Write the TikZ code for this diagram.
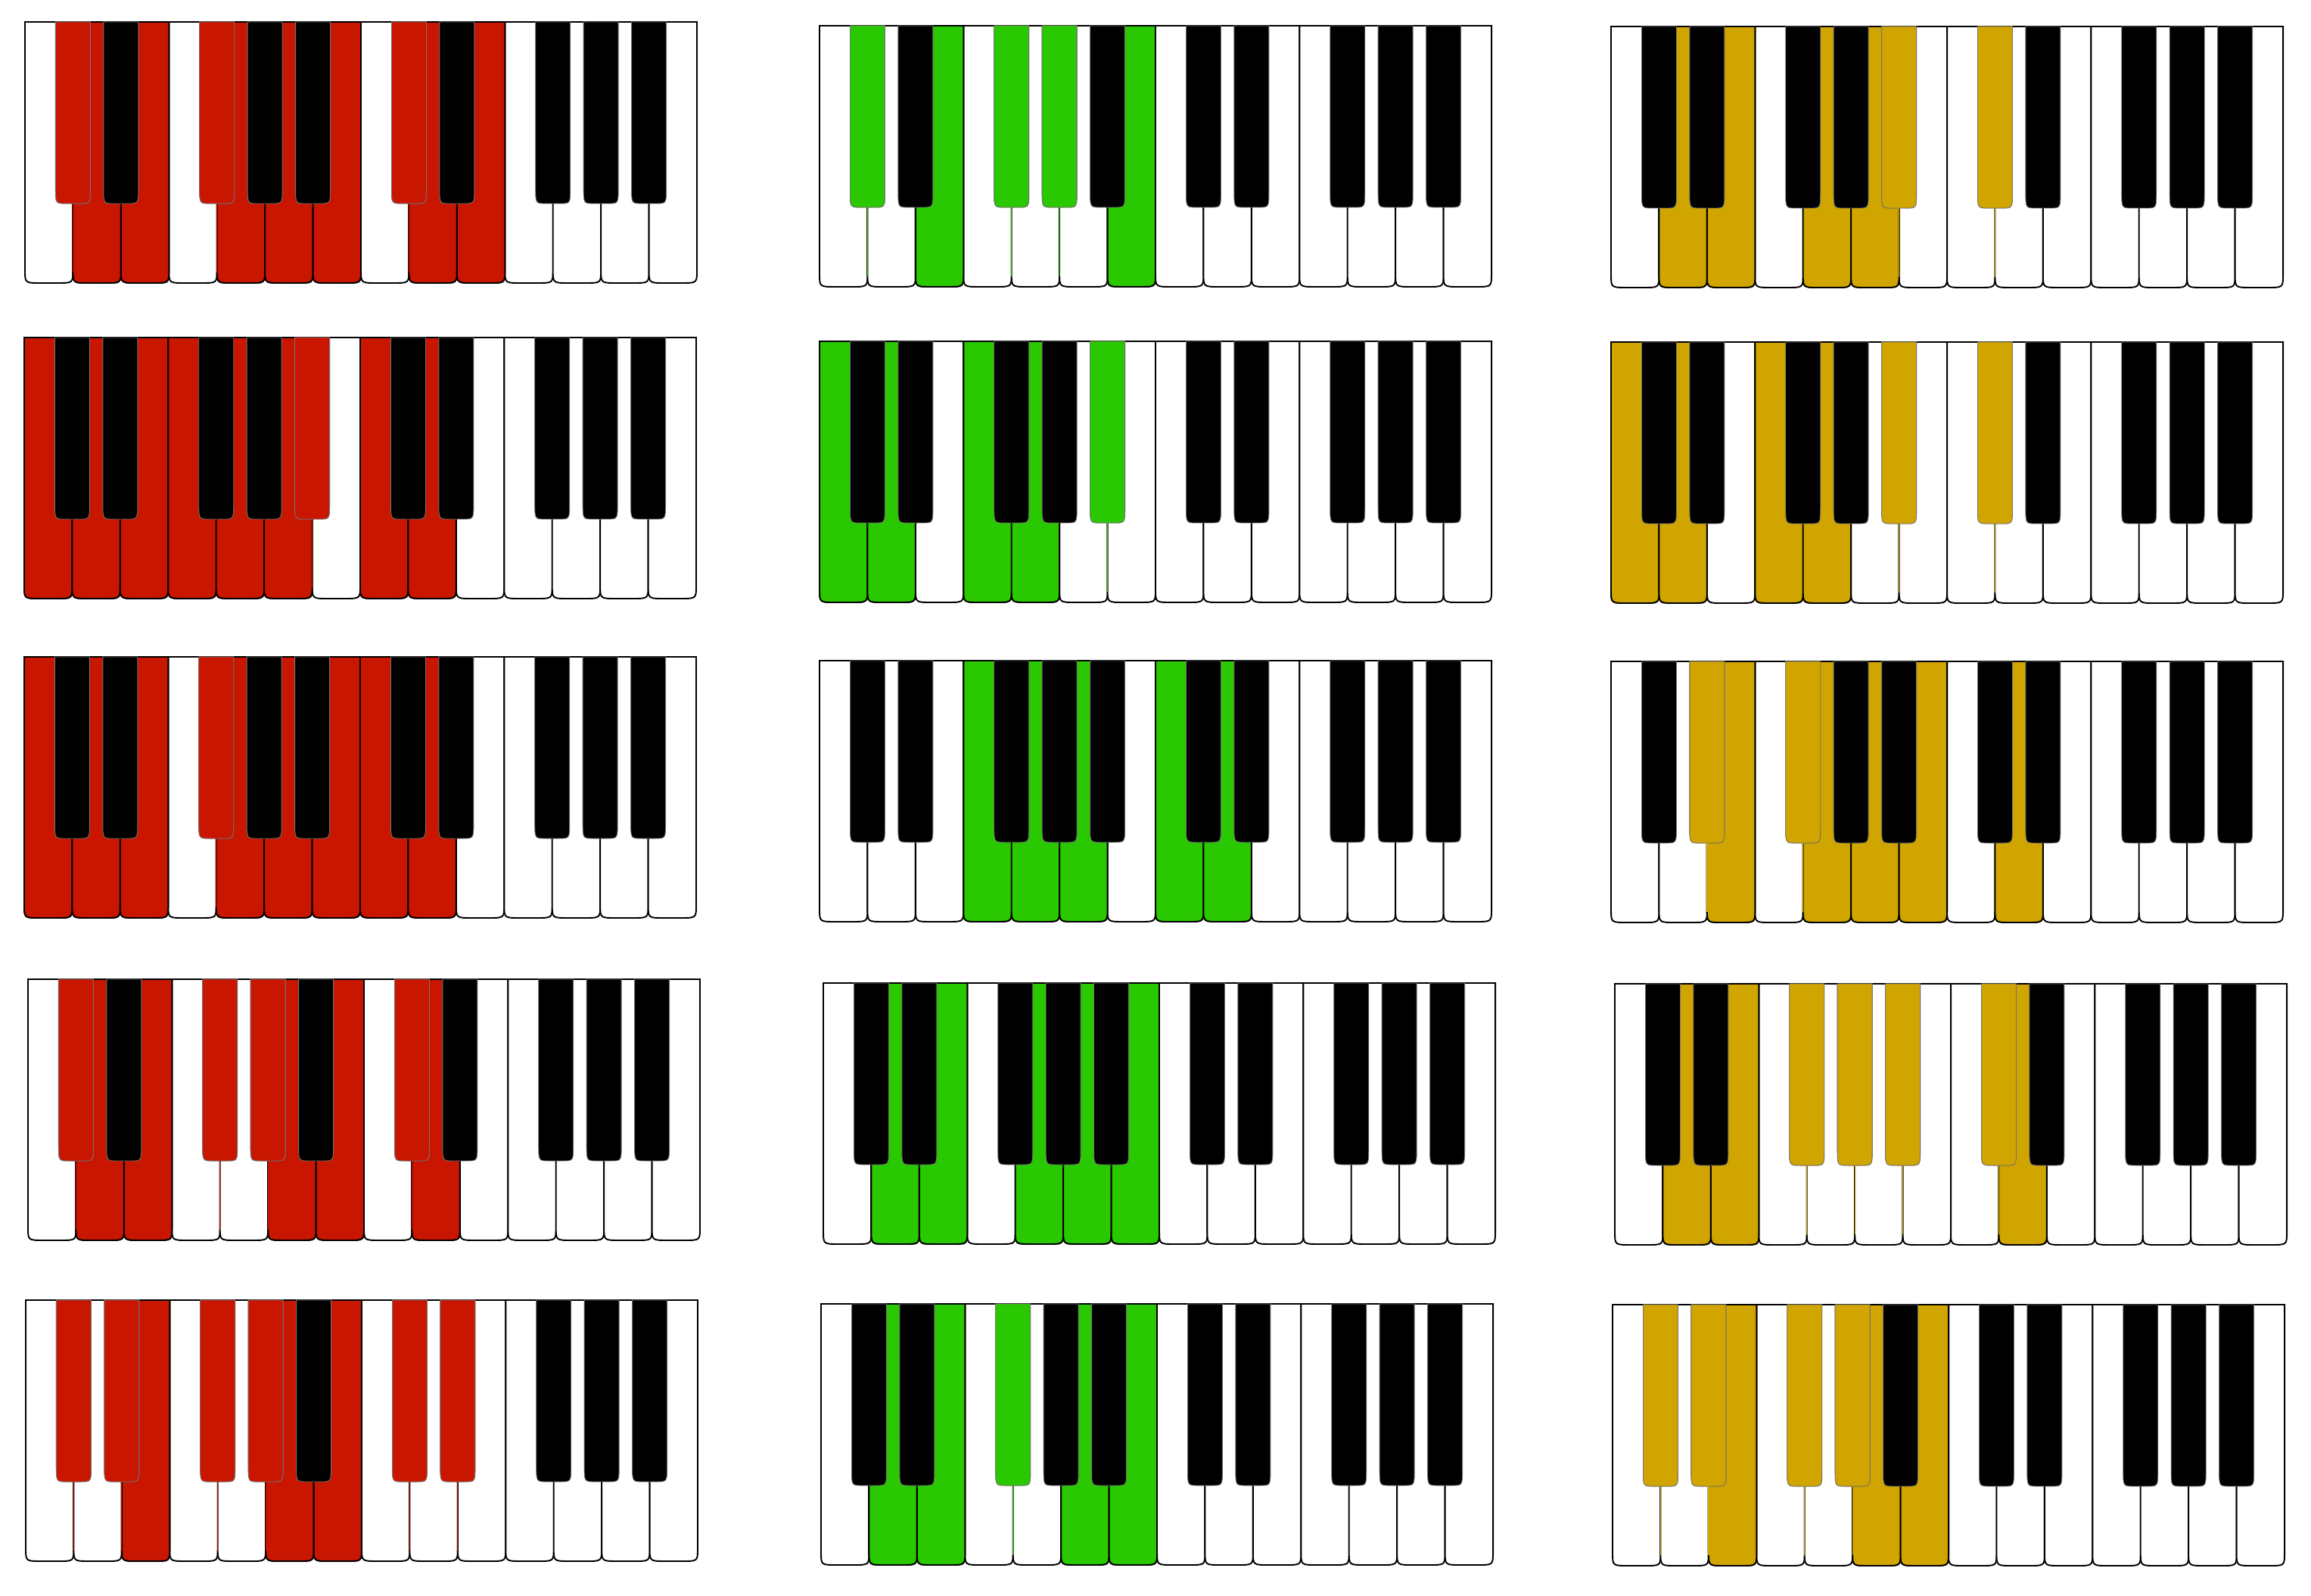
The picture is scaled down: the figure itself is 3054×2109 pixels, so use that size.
\documentclass[tikz,border=0pt]{standalone}
\usepackage{xcolor}
\usepackage{tikz}

\definecolor{keyred}{RGB}{200,22,0}
\definecolor{keygreen}{RGB}{42,200,0}
\definecolor{keygold}{RGB}{209,165,0}

\newcommand{\kw}{63.43}
\newcommand{\kh}{345}
\newcommand{\bw}{46}
\newcommand{\bh}{240}

\newcommand{\pianorow}[5]{%
	\begin{scope}[shift={(#1,#2)}]
		\foreach \w in {0,...,13} \pic[whitekey] at (\w*\kw,0) {wkey};
		\foreach \w in {#4} \pic[whitekey, fill=#3] at (\w*\kw,0) {wkey};
		\foreach \b in {1,2,4,5,6,8,9,11,12,13} \pic[blackkey] at (\b*\kw,0) {bkey};
		\foreach \b in {#5} {
			\pic[blackkey, fill=#3] at (\b*\kw,0) {bkey};
			\draw[stem, #3] (\b*\kw,\bh) -- (\b*\kw,\kh-14);
		}
	\end{scope}}

\begin{document}
\begin{tikzpicture}[
		x=0.1mm, y=-0.1mm,
		whitekey/.style={draw=black, fill=white, line width=0.55pt},
		blackkey/.style={draw=black!55, fill=black, line width=0.25pt},
		stem/.style={line width=0.35pt},
		wkey/.pic={\path[pic actions] (0,0) -- (0,\kh-17) .. controls (0,\kh) .. (21,\kh)
			-- (\kw-21,\kh) .. controls (\kw,\kh) .. (\kw,\kh-17) -- (\kw,0) -- cycle;},
		bkey/.pic={\path[pic actions] (-\bw/2,0) -- (-\bw/2,\bh-21) .. controls (-\bw/2,\bh) .. (-\bw/2+14,\bh)
			-- (\bw/2-14,\bh) .. controls (\bw/2,\bh) .. (\bw/2,\bh-21) -- (\bw/2,0) -- cycle;}
		]
		\useasboundingbox (0,0) rectangle (3054,2109);
		\pianorow{33}{29}{keyred}{1,2,4,5,6,8,9}{1,4,8}
		\pianorow{1083}{34}{keygreen}{2,6}{1,4,5}
		\pianorow{2129}{35}{keygold}{1,2,4,5}{6,8}
		\pianorow{32}{446}{keyred}{0,1,2,3,4,5,7,8}{6}
		\pianorow{1083}{451}{keygreen}{0,1,3,4}{6}
		\pianorow{2129}{452}{keygold}{0,1,3,4}{6,8}
		\pianorow{32}{868}{keyred}{0,1,2,4,5,6,7,8}{4}
		\pianorow{1083}{873}{keygreen}{3,4,5,7,8}{}
		\pianorow{2129}{874}{keygold}{2,4,5,6,8}{2,4}
		\pianorow{37}{1294}{keyred}{1,2,5,6,8}{1,4,5,8}
		\pianorow{1088}{1299}{keygreen}{1,2,4,5,6}{}
		\pianorow{2134}{1300}{keygold}{1,2,8}{4,5,6,8}
		\pianorow{34}{1718}{keyred}{2,5,6}{1,2,4,5,8,9}
		\pianorow{1085}{1723}{keygreen}{1,2,5,6}{4}
		\pianorow{2131}{1724}{keygold}{2,5,6}{1,2,4,5}
	\end{tikzpicture}
\end{document}
